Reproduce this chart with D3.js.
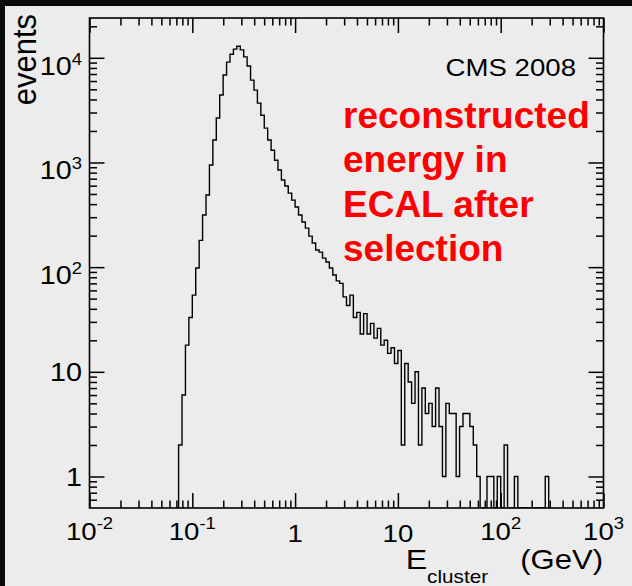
<!DOCTYPE html>
<html>
<head>
<meta charset="utf-8">
<script src="https://cdn.jsdelivr.net/npm/d3@7"></script>
<style>
  html, body { margin: 0; padding: 0; background: #ececec; }
  svg { display: block; }
  text { font-family: "Liberation Sans", Arial, Helvetica, sans-serif; }
</style>
</head>
<body>
<svg id="chart" width="632" height="586"></svg>
<script>
// Histogram binning: log-uniform bins, 30 per decade, counted from 10^-2 GeV
const binsPerDecade = 30;
const firstBinIndex = 26;

// Events per bin, starting at bin firstBinIndex
const counts = [
  2, 6, 18, 33, 54, 98, 180, 315, 489, 945,
  1640, 2660, 4410, 6850, 9100, 10800, 12100, 12900, 11900, 10200,
  8340, 6120, 4910, 3690, 2830, 2130, 1640, 1310, 1050, 846,
  679, 595, 510, 437, 375, 315, 270, 236, 198, 170,
  146, 139, 122, 112, 98, 84, 74, 70, 52, 43,
  54, 33, 37, 23, 36, 23, 29, 21, 26, 18,
  20, 15, 17, 12, 16, 2, 12, 8, 5, 10,
  2, 7, 4, 5, 3, 7, 3, 1, 5, 4,
  4, 1, 3, 4, 4, 3, 2, 1, 0, 0,
  1, 1, 0, 1, 0, 2, 0, 0, 1, 0,
  0, 0, 0, 0, 0, 0, 0, 1
];

// Axis ticks and labels (base, exponent)
const xTickValues = [0.01, 0.1, 1, 10, 100, 1000];
const xTickLabels = [["10", "-2"], ["10", "-1"], ["1", ""], ["10", ""], ["10", "2"], ["10", "3"]];
const yTickValues = [1, 10, 100, 1000, 10000];
const yTickLabels = [["1", ""], ["10", ""], ["10", "2"], ["10", "3"], ["10", "4"]];

const yTitle = "events";
const xTitleMain = "E";
const xTitleSub = "cluster";
const xTitleUnit = "(GeV)";
const experimentLabel = "CMS 2008";
const noteLines = ["reconstructed", "energy in", "ECAL after", "selection"];

const svg = d3.select("#chart");
const W = 632, H = 586;
const frame = { left: 89.5, right: 603.5, top: 18, bottom: 508 };
const sx = 1.15; // the plot lettering is set wide

// page background with the dark border strips
svg.append("rect").attr("width", W).attr("height", H).attr("fill", "#ececec");
svg.append("rect").attr("x", 0).attr("y", 0).attr("width", W).attr("height", 6).attr("fill", "#0b0b0b");
svg.append("rect").attr("x", 0).attr("y", 0).attr("width", 5).attr("height", H).attr("fill", "#0b0b0b");

const x = d3.scaleLog().domain([0.01, 1000]).range([frame.left, frame.right]);
const y = d3.scaleLog().domain([0.5, 2.4e4]).range([frame.bottom, frame.top]);

// minor tick values: 2..9 times each power of ten inside the domain
function minorTicks(scale) {
  const [lo, hi] = scale.domain();
  const out = [];
  for (let p = Math.floor(Math.log10(lo)) - 1; p <= Math.ceil(Math.log10(hi)); p++) {
    for (let m = 2; m <= 9; m++) {
      const v = m * Math.pow(10, p);
      if (v > lo && v < hi) out.push(v);
    }
  }
  return out;
}

const majorLen = 15, minorLen = 7.5;
const axisStyle = g => {
  g.select(".domain").remove();
  g.selectAll("line").attr("stroke", "#000").attr("stroke-width", 1.5);
  g.selectAll("text").remove();
};

// x axes (bottom and top), ticks pointing into the frame
[[d3.axisBottom, frame.bottom], [d3.axisTop, frame.top]].forEach(([fn, yy]) => {
  svg.append("g").attr("transform", `translate(0,${yy})`)
    .call(fn(x).tickValues(xTickValues).tickSize(-majorLen)).call(axisStyle);
  svg.append("g").attr("transform", `translate(0,${yy})`)
    .call(fn(x).tickValues(minorTicks(x)).tickSize(-minorLen)).call(axisStyle);
});
// y axes (left and right)
[[d3.axisLeft, frame.left], [d3.axisRight, frame.right]].forEach(([fn, xx]) => {
  svg.append("g").attr("transform", `translate(${xx},0)`)
    .call(fn(y).tickValues(yTickValues).tickSize(-majorLen)).call(axisStyle);
  svg.append("g").attr("transform", `translate(${xx},0)`)
    .call(fn(y).tickValues(minorTicks(y)).tickSize(-minorLen)).call(axisStyle);
});

// histogram outline
const edge = k => Math.pow(10, -2 + k / binsPerDecade);
const floorVal = y.domain()[0];
const pts = [[edge(firstBinIndex), floorVal]];
counts.forEach((c, i) => pts.push([edge(firstBinIndex + i), c > 0 ? c : floorVal]));
pts.push([edge(firstBinIndex + counts.length), floorVal]);

svg.append("clipPath").attr("id", "frameClip").append("rect")
  .attr("x", frame.left).attr("y", frame.top)
  .attr("width", frame.right - frame.left).attr("height", frame.bottom - frame.top);

svg.append("path")
  .datum(pts)
  .attr("clip-path", "url(#frameClip)")
  .attr("fill", "none")
  .attr("stroke", "#000")
  .attr("stroke-width", 1.4)
  .attr("d", d3.line().x(d => x(d[0])).y(d => y(d[1])).curve(d3.curveStepAfter));

// frame
svg.append("rect")
  .attr("x", frame.left).attr("y", frame.top)
  .attr("width", frame.right - frame.left).attr("height", frame.bottom - frame.top)
  .attr("fill", "none").attr("stroke", "#000").attr("stroke-width", 1.6);

// text placed at (px, py) and widened horizontally
function wideText(px, py, anchor, size) {
  return svg.append("text")
    .attr("transform", `translate(${px},${py}) scale(${sx},1)`)
    .attr("text-anchor", anchor).attr("font-size", size).attr("fill", "#000");
}

// tick labels
const labelSize = 24, expSize = 16;
xTickValues.forEach((v, i) => {
  const [base, exp] = xTickLabels[i];
  const t = wideText(x(v), exp ? 540 : 542, "middle", labelSize);
  t.append("tspan").text(base);
  if (exp) t.append("tspan").attr("font-size", expSize).attr("dy", -11).text(exp);
});
yTickValues.forEach((v, i) => {
  const [base, exp] = yTickLabels[i];
  const yy = y(v);
  const t = wideText(82, exp ? yy + 17 : yy + 9.5, "end", labelSize + 1);
  t.append("tspan").text(base);
  if (exp) t.append("tspan").attr("font-size", expSize).attr("dy", -10).text(exp);
});

// y title, read bottom to top
svg.append("text")
  .attr("transform", "translate(36,14) scale(1.1,1) rotate(-90)")
  .attr("text-anchor", "end").attr("font-size", 31).attr("fill", "#000")
  .text(yTitle);

// x title with subscript, right-aligned to the axis end
const xt = wideText(603, 569, "end", 27);
xt.append("tspan").attr("font-size", 28).text(xTitleMain);
xt.append("tspan").attr("font-size", 18).attr("dy", 14).text(xTitleSub);
xt.append("tspan").attr("dy", -14).attr("dx", 28).text(xTitleUnit);

// experiment label
wideText(576, 75.5, "end", 24).text(experimentLabel);

// red annotation
noteLines.forEach((line, i) => {
  svg.append("text")
    .attr("x", 343).attr("y", 128 + i * 44.3)
    .attr("font-size", 37).attr("font-weight", "bold").attr("fill", "#ff0000")
    .text(line);
});
</script>
</body>
</html>
